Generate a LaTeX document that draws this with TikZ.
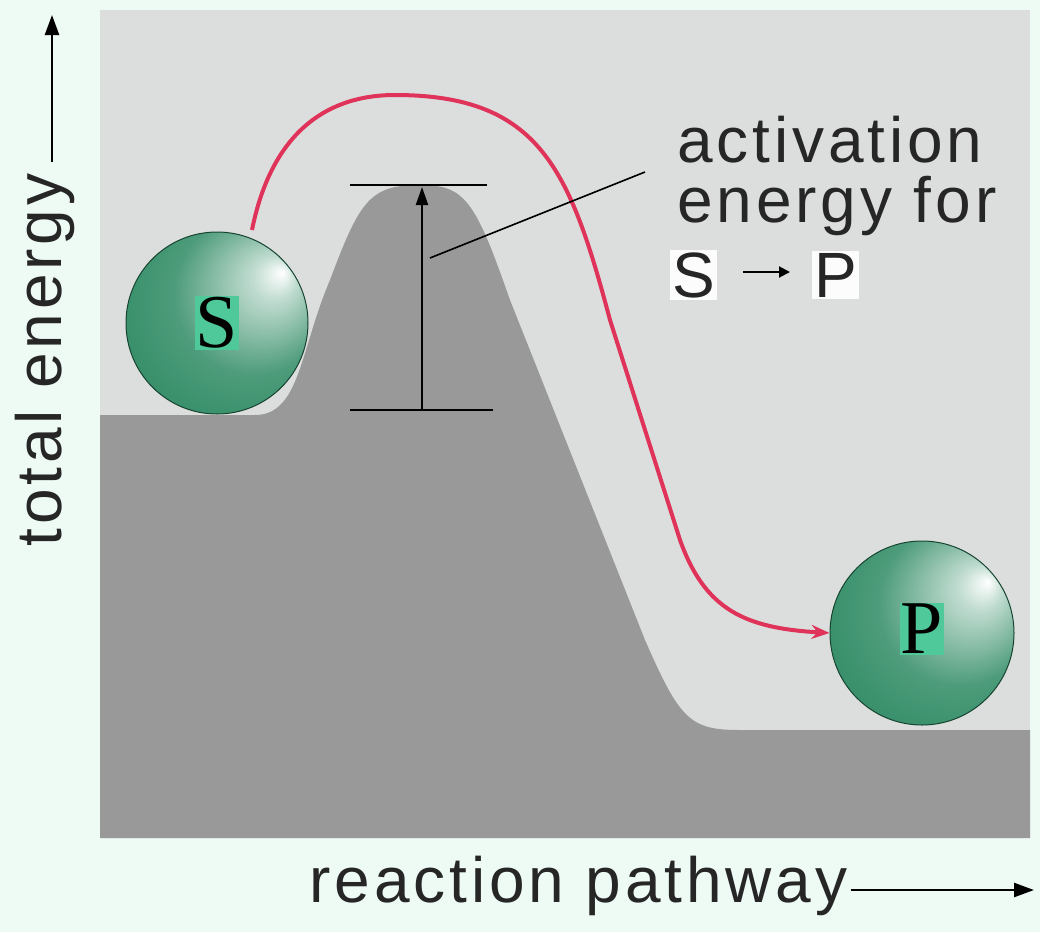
\documentclass[tikz,border=0pt]{standalone}
\usepackage{fontspec}
\setmainfont{Liberation Sans}[LetterSpace=6]
\newfontfamily\serifb{Liberation Serif}
\usetikzlibrary{arrows.meta}
\definecolor{mint}{HTML}{EEFAF4}
\definecolor{panel}{HTML}{DCDEDD}
\definecolor{hill}{HTML}{999999}
\definecolor{ballg}{HTML}{2E8A63}
\definecolor{tag}{HTML}{4FC99A}
\definecolor{redc}{HTML}{E0335A}
\pgfdeclareradialshading{gball}{\pgfpoint{18bp}{14bp}}{color(0bp)=(white); color(6bp)=(white!70!ballg); color(22bp)=(ballg!85!white); color(38bp)=(ballg); color(50bp)=(ballg!75!black)}
\tikzset{
  ball/.style={circle,draw=ballg!50!black,line width=1pt,shading=gball},
  lab/.style={fill=tag,inner sep=1pt,font=\serifb\fontsize{76}{76}\selectfont,text=black},
  txt/.style={font=\fontsize{64}{66}\selectfont,text=black!85},
}
\begin{document}
\begin{tikzpicture}[x=1pt,y=-1pt]
\fill[mint] (0,0) rectangle (1040,932);
\useasboundingbox (0,0) rectangle (1040,932);
\fill[panel] (100,10) rectangle (1030,838);
% hill
\fill[hill] (100,838) -- (100,415) -- (255,415)
  .. controls (300,415) and (300,350) .. (330,280)
  .. controls (360,200) and (370,185) .. (420,185)
  .. controls (465,185) and (475,200) .. (510,300)
  -- (645,640) .. controls (680,720) and (690,730) .. (740,730)
  -- (1030,730) -- (1030,838) -- cycle;
% balls
\node[ball,minimum size=182] (S) at (217,323) {};
\node[ball,minimum size=184] (P) at (922,633) {};
\node[lab] at (S.center) {S};
\node[lab] at ([yshift=4]P.center) {P};
% red path
\coordinate (r0) at (252,230);
\draw[redc,line width=4pt,-{Stealth[length=18pt,width=14pt]}] (r0)
  .. controls (270,140) and (320,95) .. (395,95)
  .. controls (540,95) and (570,170) .. (610,320)
  -- (680,540) .. controls (705,610) and (745,628) .. (P.west);
% activation bars
\coordinate (t1) at (350,185); \coordinate (t2) at (487,185);
\coordinate (b1) at (350,410); \coordinate (b2) at (493,410);
\coordinate (vb) at (422,410); \coordinate (vt) at (422,187);
\coordinate (l1) at (430,258); \coordinate (l2) at (645,172);
\draw[line width=2pt] (t1) -- (t2);
\draw[line width=2pt] (b1) -- (b2);
\draw[line width=2.2pt,-{Triangle[length=18pt,width=12pt]}] (vb) -- (vt);
\draw[line width=1.6pt] (l1) -- (l2);
% text
\node[txt,anchor=west] (a1) at (674,140) {activation};
\node[txt,anchor=west] (a2) at (674,206) {energy for};
\node[txt,anchor=west,fill=white!92!panel,inner sep=2pt] (a3) at (670,275) {S};
\node[txt,anchor=west,fill=white!92!panel,inner sep=2pt] (a4) at (812,275) {P};
\draw[line width=2pt,-{Triangle[length=11pt,width=11pt]}] (743,272) -- (790,272);
% axes
\node[txt,rotate=90] (ya) at (45,360) {total energy};
\coordinate (ytop) at (52,15);
\draw[line width=2.5pt,-{Triangle[length=20pt,width=14pt]}] (ya.east) ++(7,-8) -- (ytop);
\node[txt,anchor=west] (xa) at (306,886) {reaction pathway};
\coordinate (xend) at (1034,890);
\draw[line width=2.5pt,-{Triangle[length=20pt,width=14pt]}] (xa.east|-xend) -- (xend);
\end{tikzpicture}
\end{document}
